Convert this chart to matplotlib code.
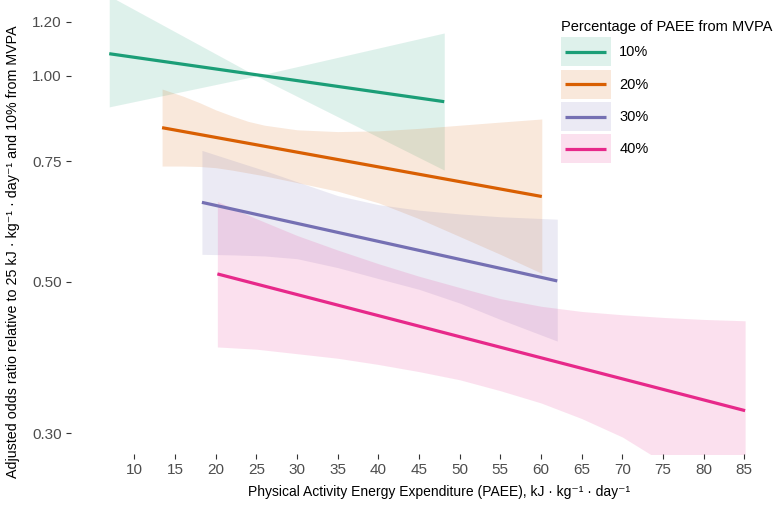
import matplotlib
matplotlib.use("Agg")
import matplotlib.pyplot as plt
from matplotlib.patches import Rectangle
from matplotlib.lines import Line2D
from matplotlib.legend_handler import HandlerBase
from matplotlib.ticker import FixedLocator, FixedFormatter, NullLocator

plt.rcParams["font.family"] = ["Liberation Sans", "DejaVu Sans"]

# groups (percentage of PAEE from MVPA) and Dark2 colours
groups = ["10%", "20%", "30%", "40%"]
colors = ["#1B9E77", "#D95F02", "#7570B3", "#E7298A"]

# fitted lines (odds ratio at the ends of each PAEE range)
line_10_x = [6.9, 48.1]
line_10_y = [1.078, 0.917]
line_20_x = [13.4, 60.1]
line_20_y = [0.840, 0.666]
line_30_x = [18.3, 62.0]
line_30_y = [0.653, 0.501]
line_40_x = [20.2, 85.1]
line_40_y = [0.513, 0.3235]

# confidence bands
band_10_x = [6.9, 25, 48.1]
band_10_hi = [1.31, 1.0, 1.156]
band_10_lo = [0.901, 1.0, 0.728]

band_20_x = [13.4, 16, 18, 20, 22, 24, 26, 30, 35, 40, 45, 50, 55, 60.1]
band_20_hi = [0.957, 0.934, 0.914, 0.892, 0.874, 0.858, 0.847, 0.834, 0.829, 0.831, 0.838, 0.847, 0.856, 0.865]
band_20_lo = [0.738, 0.738, 0.737, 0.734, 0.728, 0.721, 0.714, 0.698, 0.678, 0.652, 0.618, 0.582, 0.548, 0.514]

band_30_x = [18.3, 22, 26, 30, 35, 40, 45, 50, 55, 62.0]
band_30_hi = [0.778, 0.753, 0.727, 0.700, 0.668, 0.648, 0.636, 0.628, 0.622, 0.617]
band_30_lo = [0.548, 0.547, 0.545, 0.540, 0.524, 0.505, 0.487, 0.465, 0.440, 0.409]

band_40_x = [20.2, 25, 30, 35, 40, 45, 50, 55, 60, 65, 70, 75, 80, 85.1]
band_40_hi = [0.655, 0.618, 0.584, 0.556, 0.531, 0.509, 0.490, 0.472, 0.460, 0.452, 0.447, 0.443, 0.440, 0.438]
band_40_lo = [0.401, 0.398, 0.392, 0.386, 0.378, 0.369, 0.359, 0.346, 0.332, 0.315, 0.296, 0.272, 0.247, 0.222]

x_ticks = [10, 15, 20, 25, 30, 35, 40, 45, 50, 55, 60, 65, 70, 75, 80, 85]
y_ticks = [0.30, 0.50, 0.75, 1.00, 1.20]
y_tick_labels = ["0.30", "0.50", "0.75", "1.00", "1.20"]

lines = [(line_10_x, line_10_y), (line_20_x, line_20_y),
         (line_30_x, line_30_y), (line_40_x, line_40_y)]
bands = [(band_10_x, band_10_lo, band_10_hi), (band_20_x, band_20_lo, band_20_hi),
         (band_30_x, band_30_lo, band_30_hi), (band_40_x, band_40_lo, band_40_hi)]

band_alpha = 0.14


# legend key: shaded box with the line through its middle
class BandLineHandler(HandlerBase):
    def create_artists(self, legend, orig_handle, xdescent, ydescent,
                       width, height, fontsize, trans):
        c = orig_handle.get_color()
        box = Rectangle((-xdescent, -ydescent), width, height, facecolor=c,
                        alpha=band_alpha, linewidth=0, transform=trans)
        ymid = -ydescent + height / 2
        ln = Line2D([-xdescent + 3, -xdescent + width - 3], [ymid, ymid],
                    color=c, linewidth=2.3, solid_capstyle="butt", transform=trans)
        return [box, ln]


fig = plt.figure(figsize=(7.76, 5.11), dpi=100)
ax = fig.add_axes([71 / 776, 57 / 511, 705 / 776, 454 / 511])

for (bx, lo, hi), c in zip(bands, colors):
    ax.fill_between(bx, lo, hi, color=c, alpha=band_alpha, linewidth=0)
for (lx, ly), c in zip(lines, colors):
    ax.plot(lx, ly, color=c, linewidth=2.3, solid_capstyle="butt")

ax.set_yscale("log")
ax.set_xlim(2.2, 88.9)
ax.set_ylim(0.2795, 1.292)
ax.yaxis.set_major_locator(FixedLocator(y_ticks))
ax.yaxis.set_major_formatter(FixedFormatter(y_tick_labels))
ax.yaxis.set_minor_locator(NullLocator())
ax.set_xticks(x_ticks)

for s in ax.spines.values():
    s.set_visible(False)
ax.tick_params(axis="both", length=3.5, width=0.8, color="#333333",
               labelcolor="#4D4D4D", labelsize=11, pad=3)

fig.text(439 / 776, 1 - 492 / 511,
         "Physical Activity Energy Expenditure (PAEE), kJ · kg⁻¹ · day⁻¹",
         ha="center", va="center", fontsize=10)
fig.text(13 / 776, 1 - 252 / 511,
         "Adjusted odds ratio relative to 25 kJ · kg⁻¹ · day⁻¹ and 10% from MVPA",
         rotation=90, ha="center", va="center", fontsize=10.3)

handles = [Line2D([], [], color=c) for c in colors]
leg = fig.legend(handles, groups, handler_map={Line2D: BandLineHandler()},
                 loc="upper left", bbox_to_anchor=(561 / 776, 1 - 20 / 511),
                 frameon=False, fontsize=10.5, title="Percentage of PAEE from MVPA",
                 title_fontsize=10.5, alignment="left", handlelength=3.4,
                 handleheight=2.7, labelspacing=0.22, handletextpad=0.6,
                 borderpad=0, borderaxespad=0)

fig.savefig("out.png", dpi=100)
